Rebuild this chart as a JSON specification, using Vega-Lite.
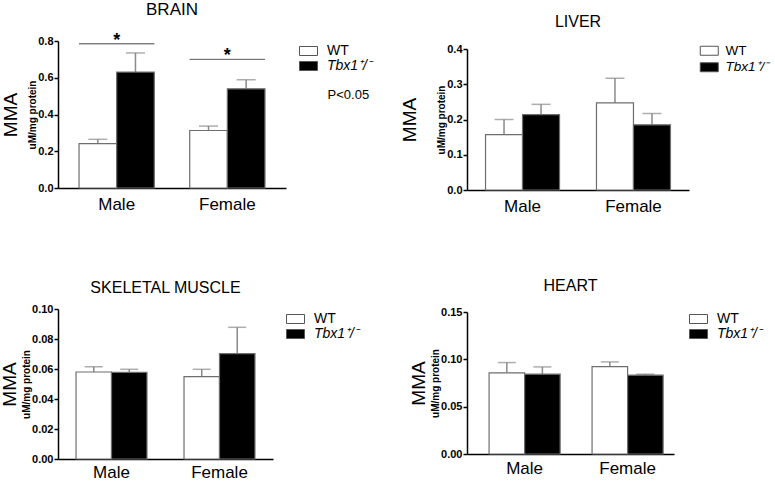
{
  "$schema": "https://vega.github.io/schema/vega-lite/v6.json",
  "padding": {"left": 0, "top": 0, "right": 0, "bottom": 0},
  "background": "white",
  "datasets": {
    "brain": [
      {"sex": "Male", "genotype": "WT", "mean": 0.242, "err": 0.265},
      {"sex": "Male", "genotype": "Tbx1⁺/⁻", "mean": 0.631, "err": 0.735},
      {"sex": "Female", "genotype": "WT", "mean": 0.313, "err": 0.337},
      {"sex": "Female", "genotype": "Tbx1⁺/⁻", "mean": 0.54, "err": 0.589}
    ],
    "brain_sig": [
      {"sex": "Male", "y": 0.785, "label": "*"},
      {"sex": "Female", "y": 0.7, "label": "*"}
    ],
    "brain_note": [
      {"sex": "Female", "y": 0.506, "label": "P<0.05"}
    ],
    "liver": [
      {"sex": "Male", "genotype": "WT", "mean": 0.157, "err": 0.2},
      {"sex": "Male", "genotype": "Tbx1⁺/⁻", "mean": 0.214, "err": 0.243},
      {"sex": "Female", "genotype": "WT", "mean": 0.247, "err": 0.317},
      {"sex": "Female", "genotype": "Tbx1⁺/⁻", "mean": 0.185, "err": 0.217}
    ],
    "muscle": [
      {"sex": "Male", "genotype": "WT", "mean": 0.058, "err": 0.0615},
      {"sex": "Male", "genotype": "Tbx1⁺/⁻", "mean": 0.0578, "err": 0.0598},
      {"sex": "Female", "genotype": "WT", "mean": 0.0549, "err": 0.0598},
      {"sex": "Female", "genotype": "Tbx1⁺/⁻", "mean": 0.0702, "err": 0.0878}
    ],
    "heart": [
      {"sex": "Male", "genotype": "WT", "mean": 0.0857, "err": 0.0966},
      {"sex": "Male", "genotype": "Tbx1⁺/⁻", "mean": 0.0843, "err": 0.092},
      {"sex": "Female", "genotype": "WT", "mean": 0.0924, "err": 0.0973},
      {"sex": "Female", "genotype": "Tbx1⁺/⁻", "mean": 0.0833, "err": 0.0843}
    ]
  },
  "hconcat": [
    {
      "vconcat": [
        {
          "title": {"text": "BRAIN", "fontSize": 17, "offset": 13},
          "width": 228, "height": 147,
          "layer": [
            {
              "data": {"name": "brain"},
              "mark": {"type": "rule", "color": "#8a8a8a", "strokeWidth": 1.5},
              "encoding": {
                "x": {"field": "sex", "type": "nominal", "sort": ["Male", "Female"], "scale": {"paddingInner": 0.32, "paddingOuter": 0.19}, "axis": {"title": null, "labelAngle": 0, "labelFontSize": 17, "ticks": false, "labelPadding": 8}},
                "xOffset": {"field": "genotype", "sort": ["WT", "Tbx1⁺/⁻"], "scale": {"paddingInner": 0, "paddingOuter": 0}},
                "y": {"field": "mean", "type": "quantitative", "scale": {"domain": [0, 0.8], "nice": false}, "axis": {"orient": "left", "title": "uM/mg protein", "titleFontSize": 10, "titleFontWeight": "bold", "titlePadding": 0, "values": [0, 0.2, 0.4, 0.6, 0.8], "format": ".1f", "labelFontSize": 11, "labelFontWeight": "bold", "tickSize": 4, "labelPadding": 1}},
                "y2": {"field": "err"}
              }
            },
            {
              "data": {"name": "brain"},
              "mark": {"type": "tick", "color": "#8a8a8a", "thickness": 1.5, "size": 19},
              "encoding": {
                "x": {"field": "sex", "type": "nominal", "sort": ["Male", "Female"]},
                "xOffset": {"field": "genotype", "sort": ["WT", "Tbx1⁺/⁻"]},
                "y": {"field": "err", "type": "quantitative", "axis": null}
              }
            },
            {
              "data": {"name": "brain"},
              "mark": {"type": "bar", "stroke": "#6e6e6e", "strokeWidth": 1.2},
              "encoding": {
                "x": {"field": "sex", "type": "nominal", "sort": ["Male", "Female"]},
                "xOffset": {"field": "genotype", "sort": ["WT", "Tbx1⁺/⁻"]},
                "y": {"field": "mean", "type": "quantitative", "axis": {"orient": "left", "title": "MMA", "titleFontSize": 19, "titleFontWeight": "normal", "labels": false, "ticks": false, "domain": false, "titlePadding": 38}},
                "fill": {"field": "genotype", "type": "nominal", "sort": ["WT", "Tbx1⁺/⁻"], "scale": {"domain": ["WT", "Tbx1⁺/⁻"], "range": ["white", "black"]}, "legend": {"title": null, "orient": "right", "offset": 8, "padding": 3, "symbolType": "M-1,-1H3V1H-1Z", "symbolSize": 81, "symbolStrokeColor": "#555", "symbolStrokeWidth": 1, "labelFontSize": 14, "labelOffset": 16, "rowPadding": 1, "labelFontStyle": {"expr": "datum.label == 'WT' ? 'normal' : 'italic'"}}}
              }
            },
            {
              "data": {"name": "brain_sig"},
              "mark": {"type": "bar", "fill": null, "stroke": "#777", "strokeWidth": 1},
              "encoding": {
                "x": {"field": "sex", "type": "nominal", "sort": ["Male", "Female"]},
                "y": {"field": "y", "type": "quantitative", "axis": null},
                "y2": {"field": "y"}
              }
            },
            {
              "data": {"name": "brain_sig"},
              "mark": {"type": "text", "fontSize": 18, "fontWeight": "bold", "baseline": "alphabetic", "dy": 2},
              "encoding": {
                "x": {"field": "sex", "type": "nominal", "sort": ["Male", "Female"]},
                "y": {"field": "y", "type": "quantitative", "axis": null},
                "text": {"field": "label"}
              }
            },
            {
              "data": {"name": "brain_note"},
              "mark": {"type": "text", "fontSize": 13, "dx": 121},
              "encoding": {
                "x": {"field": "sex", "type": "nominal", "sort": ["Male", "Female"]},
                "y": {"field": "y", "type": "quantitative", "axis": null},
                "text": {"field": "label"}
              }
            }
          ],
          "resolve": {"axis": {"y": "independent"}}
        },
        {
          "title": {"text": "SKELETAL MUSCLE", "fontSize": 16, "offset": 7},
          "width": 215, "height": 150,
          "data": {"name": "muscle"},
          "layer": [
            {
              "mark": {"type": "rule", "color": "#8a8a8a", "strokeWidth": 1.5},
              "encoding": {
                "x": {"field": "sex", "type": "nominal", "sort": ["Male", "Female"], "scale": {"paddingInner": 0.343, "paddingOuter": 0.167}, "axis": {"title": null, "labelAngle": 0, "labelFontSize": 17, "ticks": false, "labelPadding": 5}},
                "xOffset": {"field": "genotype", "sort": ["WT", "Tbx1⁺/⁻"], "scale": {"paddingInner": 0, "paddingOuter": 0}},
                "y": {"field": "mean", "type": "quantitative", "scale": {"domain": [0, 0.1], "nice": false}, "axis": {"orient": "left", "title": "uM/mg protein", "titleFontSize": 10, "titleFontWeight": "bold", "titlePadding": 0, "values": [0, 0.02, 0.04, 0.06, 0.08, 0.1], "format": ".2f", "labelFontSize": 11, "labelFontWeight": "bold", "tickSize": 4, "labelPadding": 1}},
                "y2": {"field": "err"}
              }
            },
            {
              "mark": {"type": "tick", "color": "#8a8a8a", "thickness": 1.5, "size": 18},
              "encoding": {
                "x": {"field": "sex", "type": "nominal", "sort": ["Male", "Female"]},
                "xOffset": {"field": "genotype", "sort": ["WT", "Tbx1⁺/⁻"]},
                "y": {"field": "err", "type": "quantitative", "axis": null}
              }
            },
            {
              "mark": {"type": "bar", "stroke": "#6e6e6e", "strokeWidth": 1.2},
              "encoding": {
                "x": {"field": "sex", "type": "nominal", "sort": ["Male", "Female"]},
                "xOffset": {"field": "genotype", "sort": ["WT", "Tbx1⁺/⁻"]},
                "y": {"field": "mean", "type": "quantitative", "axis": {"orient": "left", "title": "MMA", "titleFontSize": 19, "titleFontWeight": "normal", "labels": false, "ticks": false, "domain": false, "titlePadding": 39}},
                "fill": {"field": "genotype", "type": "nominal", "sort": ["WT", "Tbx1⁺/⁻"], "scale": {"domain": ["WT", "Tbx1⁺/⁻"], "range": ["white", "black"]}, "legend": {"title": null, "orient": "right", "offset": 8, "padding": 3, "symbolType": "M-1,-1H3V1H-1Z", "symbolSize": 81, "symbolStrokeColor": "#555", "symbolStrokeWidth": 1, "labelFontSize": 14, "labelOffset": 16, "rowPadding": 1, "labelFontStyle": {"expr": "datum.label == 'WT' ? 'normal' : 'italic'"}}}
              }
            }
          ],
          "resolve": {"axis": {"y": "independent"}}
        }
      ],
      "spacing": 68,
      "resolve": {"scale": {"fill": "independent", "x": "independent", "y": "independent", "xOffset": "independent"}, "legend": {"fill": "independent"}}
    },
    {
      "vconcat": [
        {
          "title": {"text": "LIVER", "fontSize": 16, "offset": 11},
          "width": 222, "height": 149,
          "data": {"name": "liver"},
          "layer": [
            {
              "mark": {"type": "rule", "color": "#8a8a8a", "strokeWidth": 1.5},
              "encoding": {
                "x": {"field": "sex", "type": "nominal", "sort": ["Male", "Female"], "scale": {"paddingInner": 0.333, "paddingOuter": 0.167}, "axis": {"title": null, "labelAngle": 0, "labelFontSize": 17, "ticks": false, "labelPadding": 8}},
                "xOffset": {"field": "genotype", "sort": ["WT", "Tbx1⁺/⁻"], "scale": {"paddingInner": 0, "paddingOuter": 0}},
                "y": {"field": "mean", "type": "quantitative", "scale": {"domain": [0, 0.4], "nice": false, "range": [149, 8]}, "axis": {"orient": "left", "title": "uM/mg protein", "titleFontSize": 10, "titleFontWeight": "bold", "titlePadding": 0, "values": [0, 0.1, 0.2, 0.3, 0.4], "format": ".1f", "labelFontSize": 11, "labelFontWeight": "bold", "tickSize": 4, "labelPadding": 1}},
                "y2": {"field": "err"}
              }
            },
            {
              "mark": {"type": "tick", "color": "#8a8a8a", "thickness": 1.5, "size": 19},
              "encoding": {
                "x": {"field": "sex", "type": "nominal", "sort": ["Male", "Female"]},
                "xOffset": {"field": "genotype", "sort": ["WT", "Tbx1⁺/⁻"]},
                "y": {"field": "err", "type": "quantitative", "axis": null}
              }
            },
            {
              "mark": {"type": "bar", "stroke": "#6e6e6e", "strokeWidth": 1.2},
              "encoding": {
                "x": {"field": "sex", "type": "nominal", "sort": ["Male", "Female"]},
                "xOffset": {"field": "genotype", "sort": ["WT", "Tbx1⁺/⁻"]},
                "y": {"field": "mean", "type": "quantitative", "axis": {"orient": "left", "title": "MMA", "titleFontSize": 19, "titleFontWeight": "normal", "labels": false, "ticks": false, "domain": false, "titlePadding": 48}},
                "fill": {"field": "genotype", "type": "nominal", "sort": ["WT", "Tbx1⁺/⁻"], "scale": {"domain": ["WT", "Tbx1⁺/⁻"], "range": ["white", "black"]}, "legend": {"title": null, "orient": "right", "offset": 6, "padding": 3, "symbolType": "M-1,-1H3V1H-1Z", "symbolSize": 81, "symbolStrokeColor": "#555", "symbolStrokeWidth": 1, "labelFontSize": 13.5, "labelOffset": 14, "rowPadding": 1.5, "labelFontStyle": {"expr": "datum.label == 'WT' ? 'normal' : 'italic'"}}}
              }
            }
          ],
          "resolve": {"axis": {"y": "independent"}}
        },
        {
          "title": {"text": "HEART", "fontSize": 16, "offset": 12},
          "width": 207, "height": 142,
          "data": {"name": "heart"},
          "layer": [
            {
              "mark": {"type": "rule", "color": "#8a8a8a", "strokeWidth": 1.5},
              "encoding": {
                "x": {"field": "sex", "type": "nominal", "sort": ["Male", "Female"], "scale": {"paddingInner": 0.31, "paddingOuter": 0.16, "align": 0.67}, "axis": {"title": null, "labelAngle": 0, "labelFontSize": 17, "ticks": false, "labelPadding": 6}},
                "xOffset": {"field": "genotype", "sort": ["WT", "Tbx1⁺/⁻"], "scale": {"paddingInner": 0, "paddingOuter": 0}},
                "y": {"field": "mean", "type": "quantitative", "scale": {"domain": [0, 0.15], "nice": false}, "axis": {"orient": "left", "title": "uM/mg protein", "titleFontSize": 10, "titleFontWeight": "bold", "titlePadding": 0, "values": [0, 0.05, 0.1, 0.15], "format": ".2f", "labelFontSize": 11, "labelFontWeight": "bold", "tickSize": 4, "labelPadding": 1}},
                "y2": {"field": "err"}
              }
            },
            {
              "mark": {"type": "tick", "color": "#8a8a8a", "thickness": 1.5, "size": 18},
              "encoding": {
                "x": {"field": "sex", "type": "nominal", "sort": ["Male", "Female"]},
                "xOffset": {"field": "genotype", "sort": ["WT", "Tbx1⁺/⁻"]},
                "y": {"field": "err", "type": "quantitative", "axis": null}
              }
            },
            {
              "mark": {"type": "bar", "stroke": "#6e6e6e", "strokeWidth": 1.2},
              "encoding": {
                "x": {"field": "sex", "type": "nominal", "sort": ["Male", "Female"]},
                "xOffset": {"field": "genotype", "sort": ["WT", "Tbx1⁺/⁻"]},
                "y": {"field": "mean", "type": "quantitative", "axis": {"orient": "left", "title": "MMA", "titleFontSize": 19, "titleFontWeight": "normal", "labels": false, "ticks": false, "domain": false, "titlePadding": 39}},
                "fill": {"field": "genotype", "type": "nominal", "sort": ["WT", "Tbx1⁺/⁻"], "scale": {"domain": ["WT", "Tbx1⁺/⁻"], "range": ["white", "black"]}, "legend": {"title": null, "orient": "right", "offset": 13, "padding": 0, "symbolType": "M-1,-1H3V1H-1Z", "symbolSize": 81, "symbolStrokeColor": "#555", "symbolStrokeWidth": 1, "labelFontSize": 14, "labelOffset": 16, "rowPadding": 1, "labelFontStyle": {"expr": "datum.label == 'WT' ? 'normal' : 'italic'"}}}
              }
            }
          ],
          "resolve": {"axis": {"y": "independent"}}
        }
      ],
      "spacing": 64,
      "resolve": {"scale": {"fill": "independent", "x": "independent", "y": "independent", "xOffset": "independent"}, "legend": {"fill": "independent"}}
    }
  ],
  "spacing": 24,
  "resolve": {"scale": {"fill": "independent", "x": "independent", "y": "independent", "xOffset": "independent"}, "legend": {"fill": "independent"}},
  "config": {
    "font": "Liberation Sans",
    "view": {"stroke": null},
    "title": {"font": "Liberation Sans", "fontWeight": "normal", "color": "black", "anchor": "middle"},
    "axis": {"grid": false, "domainColor": "black", "domainWidth": 1.5, "tickColor": "black", "tickWidth": 1.5, "labelColor": "black", "titleColor": "black", "labelFont": "Liberation Sans", "titleFont": "Liberation Sans"},
    "legend": {"labelFont": "Liberation Sans", "labelColor": "black"},
    "text": {"font": "Liberation Sans", "color": "black"}
  }
}
